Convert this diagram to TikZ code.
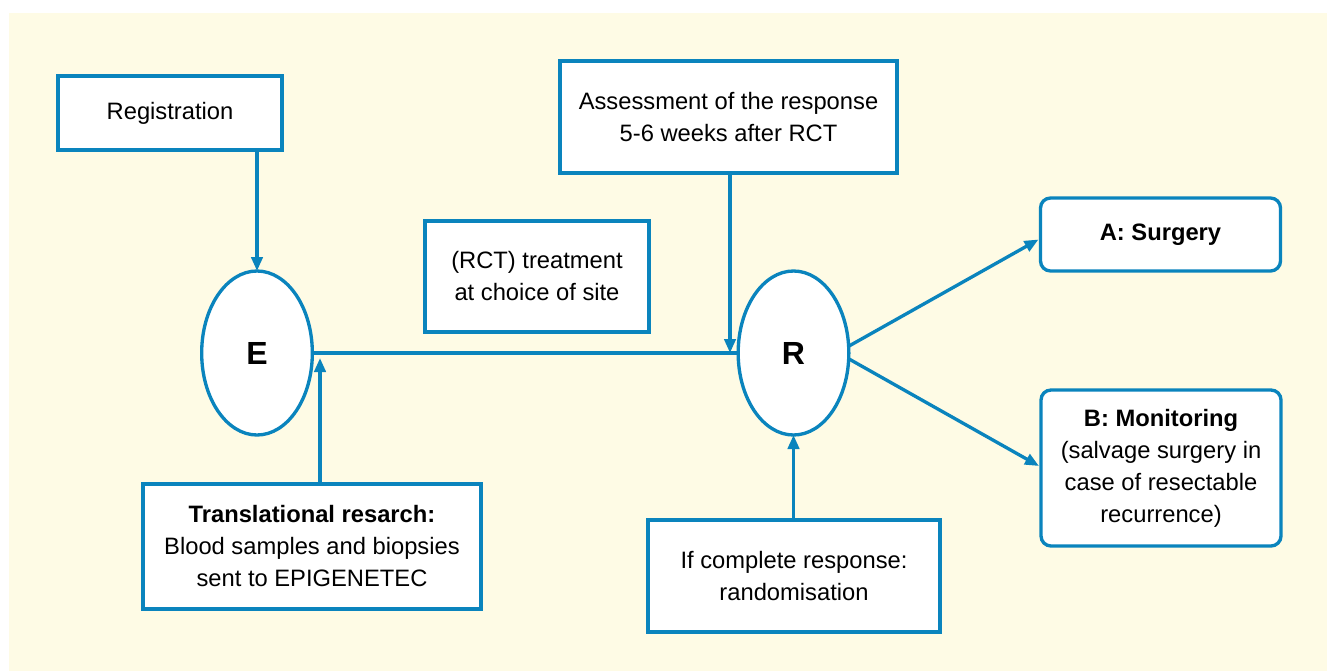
\documentclass[tikz,border=0pt]{standalone}
\usepackage{fontspec}
\setmainfont{Liberation Sans}
\usetikzlibrary{arrows.meta,shapes.geometric,calc}
\definecolor{flowblue}{HTML}{0A84BD}
\definecolor{paper}{HTML}{FEFBE5}
\begin{document}
\begin{tikzpicture}[x=0.75pt,y=-0.75pt,
  font=\fontsize{17.8pt}{24pt}\selectfont,
  every node/.style={inner sep=0pt,outer sep=0pt},
  sqbox/.style={draw=flowblue,line width=2.5pt,fill=white,rectangle,align=center},
  rdbox/.style={sqbox,rounded corners=7.5pt},
  oval/.style={draw=flowblue,line width=2.5pt,fill=white,ellipse,
    minimum width=83pt,minimum height=123pt,
    font=\fontsize{24pt}{28pt}\selectfont\bfseries},
  link/.style={draw=flowblue,line width=2.5pt},
  arr/.style={link,-{Triangle[length=10.5pt,width=8.5pt]}}]
% page and shaded panel
\useasboundingbox (0,0) rectangle (1327,671);
\fill[white] (0,0) rectangle (1327,671);
\fill[paper] (9,13) rectangle (1327,671);

% boxes
\node[sqbox,minimum width=168pt,minimum height=55.5pt] (reg) at (170,113) {Registration};
\node[sqbox,minimum width=252.75pt,minimum height=84pt] (assess) at (728.5,117)
  {Assessment of the response\\5-6 weeks after RCT};
\node[sqbox,minimum width=168pt,minimum height=83.25pt] (rct) at (537,276.5)
  {(RCT) treatment\\at choice of site};
\node[sqbox,minimum width=253.5pt,minimum height=93.75pt] (trans) at (312,546.5)
  {\textbf{Translational resarch:}\\Blood samples and biopsies\\sent to EPIGENETEC};
\node[sqbox,minimum width=219pt,minimum height=84pt] (ifc) at (794,576)
  {If complete response:\\randomisation};
\node[rdbox,minimum width=180pt,minimum height=54.75pt] (A) at (1160.5,234.5)
  {\textbf{A: Surgery}};
\node[rdbox,minimum width=180pt,minimum height=117pt] (B) at (1161,468)
  {\textbf{B: Monitoring}\\(salvage surgery in\\case of resectable\\recurrence)};

% decision points
\node[oval] (E) at (257,353) {E};
\node[oval] (R) at (793.5,353) {R};

% entry points on the main line
\coordinate (tin) at (320,358);
\coordinate (ain) at (730,353);

% connectors
\draw[link] (E.east) -- (R.west);
\draw[arr] (E.north |- reg.south) -- (E.north);
\draw[arr] (tin |- trans.north) -- (tin);
\draw[arr] (ain |- assess.south) -- (ain);
\draw[arr] (R.south |- ifc.north) -- (R.south);
\draw[arr] (R.7) -- ($(A.west)+(-2,5)$);
\draw[arr] (R.-6) -- ($(B.west)+(-2,-2)$);
\end{tikzpicture}
\end{document}
